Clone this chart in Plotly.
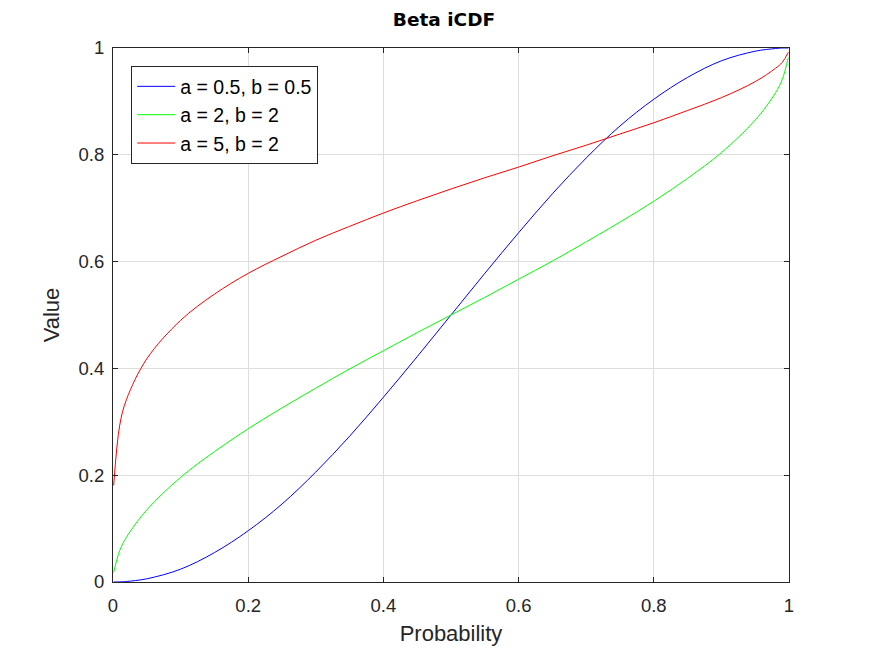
import plotly.graph_objects as go

# probabilities read along the x axis
prob = [0.001, 0.01, 0.02, 0.05, 0.1, 0.15, 0.2, 0.25, 0.3, 0.35, 0.4, 0.45, 0.5,
        0.55, 0.6, 0.65, 0.7, 0.75, 0.8, 0.85, 0.9, 0.95, 0.98, 0.99, 0.999]

# values
val_a05_b05 = [0.000, 0.0002, 0.001, 0.006, 0.024, 0.055, 0.096, 0.146, 0.206, 0.273,
               0.346, 0.422, 0.500, 0.578, 0.654, 0.727, 0.794, 0.854, 0.904, 0.945,
               0.976, 0.994, 0.999, 1.000, 1.000]
val_a2_b2 = [0.018, 0.059, 0.084, 0.135, 0.196, 0.244, 0.287, 0.326, 0.363, 0.399,
             0.433, 0.467, 0.500, 0.533, 0.567, 0.601, 0.637, 0.674, 0.713, 0.756,
             0.804, 0.865, 0.916, 0.941, 0.982]
val_a5_b2 = [0.181, 0.294, 0.342, 0.418, 0.490, 0.539, 0.578, 0.610, 0.640, 0.666,
             0.691, 0.714, 0.736, 0.757, 0.777, 0.798, 0.818, 0.839, 0.860, 0.883,
             0.907, 0.937, 0.962, 0.973, 0.992]

series = [
    ("a = 0.5, b = 0.5", val_a05_b05, "#0000ff"),
    ("a = 2, b = 2", val_a2_b2, "#00ff00"),
    ("a = 5, b = 2", val_a5_b2, "#ff0000"),
]

fig = go.Figure()
for name, vals, col in series:
    fig.add_trace(go.Scatter(x=prob, y=vals, mode="lines", name=name,
                             line=dict(color=col, width=1, shape="spline")))

axis_style = dict(
    showline=True, linecolor="#262626", linewidth=1, mirror="ticks",
    ticks="inside", ticklen=5, tickcolor="#262626",
    showgrid=True, gridcolor="#dedede", gridwidth=1,
    zeroline=False,
    tickfont=dict(size=18.5, color="#262626"),
)

ticks = [0, 0.2, 0.4, 0.6, 0.8, 1]
tick_text = ["0", "0.2", "0.4", "0.6", "0.8", "1"]

fig.update_layout(
    width=872, height=654,
    paper_bgcolor="white", plot_bgcolor="white",
    font=dict(family="Liberation Sans, Arial, sans-serif", color="#262626"),
    margin=dict(l=105, r=91, t=40, b=80),
    title=dict(text="<b>Beta iCDF</b>", x=0.5, xanchor="center", y=0.983,
               yanchor="middle",
               font=dict(family="DejaVu Sans", size=18.5, color="black")),
    xaxis=dict(range=[0, 1], tickvals=ticks, ticktext=tick_text,
               ticklabelstandoff=7,
               title=dict(text="Probability", font=dict(size=22), standoff=10),
               **axis_style),
    yaxis=dict(range=[0, 1], tickvals=ticks, ticktext=tick_text,
               ticklabelstandoff=4,
               title=dict(text="Value", font=dict(size=22), standoff=12),
               **axis_style),
    legend=dict(x=0.027, y=0.966, xanchor="left", yanchor="top",
                bgcolor="white", bordercolor="#262626", borderwidth=1,
                font=dict(size=19.5, color="black"), tracegroupgap=0,
                itemwidth=38),
    showlegend=True,
)

fig.write_html("out.html")
